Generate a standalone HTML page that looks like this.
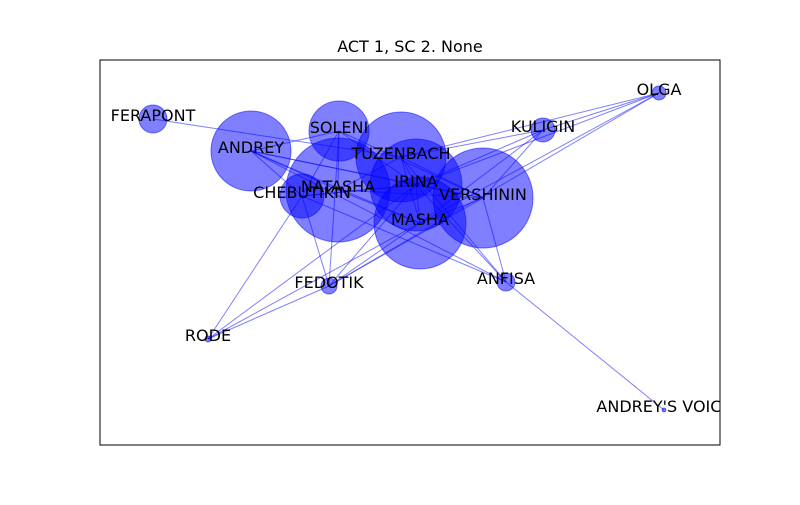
<!DOCTYPE html>
<html><head><meta charset="utf-8"><style>
body{margin:0;background:#fff;}
svg text{font-family:"DejaVu Sans","Liberation Sans",sans-serif;}
</style></head><body>
<svg width="800" height="500" xmlns="http://www.w3.org/2000/svg">
<defs><clipPath id="clip"><rect x="100" y="60" width="620" height="385"/></clipPath></defs>
<rect width="800" height="500" fill="#fff"/>
<text x="410" y="52" font-size="16" text-anchor="middle">ACT 1, SC 2. None</text>
<g id="edges"></g>
<g id="nodes"></g>
<g id="labels" clip-path="url(#clip)"></g>
<rect x="100" y="60" width="620" height="385" fill="none" stroke="#000" stroke-width="1"/>
</svg>
<script>
const names=["FERAPONT","ANDREY","SOLENI","TUZENBACH","NATASHA","IRINA","CHEBUTIKIN","VERSHININ","MASHA","KULIGIN","OLGA","FEDOTIK","ANFISA","RODE","ANDREY'S VOICE"];
const xs=[153,251,339,401,338,416,302,483,420,543,659,329,506,208,664];
const ys=[119,151,131,157,190,185,196,198,223,130,93,286,282,339,410];
const radii=[14,40,30,45,52,46,22,50,46,12,7,8,9,3,2];
const edgesFrom=["FERAPONT","ANDREY","ANDREY","ANDREY","ANDREY","ANDREY","ANDREY","SOLENI","SOLENI","SOLENI","SOLENI","TUZENBACH","TUZENBACH","TUZENBACH","TUZENBACH","IRINA","IRINA","IRINA","MASHA","MASHA","OLGA","OLGA","OLGA","OLGA","OLGA","KULIGIN","KULIGIN","KULIGIN","KULIGIN","RODE","RODE","RODE","RODE","FEDOTIK","FEDOTIK","FEDOTIK","FEDOTIK","FEDOTIK","ANFISA","ANFISA","ANFISA","ANFISA","ANFISA","ANFISA","CHEBUTIKIN","NATASHA"];
const edgesTo=["TUZENBACH","SOLENI","NATASHA","IRINA","MASHA","CHEBUTIKIN","VERSHININ","NATASHA","IRINA","VERSHININ","CHEBUTIKIN","IRINA","VERSHININ","MASHA","NATASHA","VERSHININ","MASHA","CHEBUTIKIN","VERSHININ","NATASHA","KULIGIN","TUZENBACH","IRINA","MASHA","FEDOTIK","IRINA","MASHA","VERSHININ","TUZENBACH","CHEBUTIKIN","FEDOTIK","IRINA","MASHA","CHEBUTIKIN","SOLENI","IRINA","VERSHININ","MASHA","ANDREY","CHEBUTIKIN","TUZENBACH","VERSHININ","IRINA","ANDREY'S VOICE","IRINA","VERSHININ"];
const ns="http://www.w3.org/2000/svg";
const E=document.getElementById('edges'),N=document.getElementById('nodes'),L=document.getElementById('labels');
const idx=n=>names.indexOf(n);
edgesFrom.forEach((f,i)=>{const a=idx(f),b=idx(edgesTo[i]);
const l=document.createElementNS(ns,'line');


l.setAttribute('x1',xs[a]);l.setAttribute('y1',ys[a]);l.setAttribute('x2',xs[b]);l.setAttribute('y2',ys[b]);
l.setAttribute('stroke','#0000ff');l.setAttribute('stroke-opacity','0.5');l.setAttribute('stroke-width','1');E.appendChild(l);});
names.forEach((n,i)=>{const c=document.createElementNS(ns,'circle');


c.setAttribute('cx',xs[i]);c.setAttribute('cy',ys[i]);c.setAttribute('r',radii[i]);
c.setAttribute('fill','#0000ff');c.setAttribute('fill-opacity','0.5');c.setAttribute('stroke','#0000ff');c.setAttribute('stroke-opacity','0.5');N.appendChild(c);
const t=document.createElementNS(ns,'text');


t.setAttribute('x',xs[i]);t.setAttribute('y',ys[i]+2);t.setAttribute('font-size','16');t.setAttribute('text-anchor','middle');t.textContent=n;L.appendChild(t);});
</script>
</body></html>
